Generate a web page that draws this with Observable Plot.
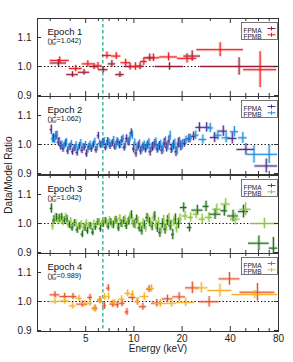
<!DOCTYPE html>
<html><head><meta charset="utf-8">
<script src="https://cdn.jsdelivr.net/npm/d3@7"></script>
<script src="https://cdn.jsdelivr.net/npm/@observablehq/plot@0.6"></script>
<style>
body{margin:0;background:#fff;font-family:"Liberation Sans",Arial,sans-serif;}
#wrap{position:relative;width:293px;height:362px;overflow:hidden;background:#fff;}
.panel{position:absolute;left:0;}
#ylab{position:absolute;left:8px;top:175px;transform:translate(-50%,-50%) rotate(-90deg);white-space:nowrap;font-size:10px;color:#222;}
</style></head><body><div id="wrap"><div id="ylab">Data/Model Ratio</div></div>
<script>
// ---------- data ----------
const epochNames = ["Epoch 1","Epoch 2","Epoch 3","Epoch 4"];
const chiLabels = ["(χν2=1.042)","(χν2=1.062)","(χν2=1.042)","(χν2=0.989)"];
const detectors = ["FPMA","FPMB"];
const colorsA = ["#9c1c34","#4b2d8c","#1d6b1d","#e4532a"];
const colorsB = ["#ef1818","#1f8ee0","#8cc43c","#f5b324"];
const feLine = [6.4];
const majorX = [5,10,20,40,80];
const minorX = [3,4,6,7,8,9,30,50,60,70];
const yTicks = [0.9,1.0,1.1];

// Epoch 1
const e1Aedges = [3.0,3.8,4.5,5.3,6.0,6.9,7.7,8.7,10.3,11.6,13.6,20.5,26.1,79];
const e1Aratio = [1.012,0.972,0.980,1.000,0.989,1.009,0.972,1.000,1.001,1.030,1.000,1.036,1.000];
const e1Aerr   = [0.012,0.010,0.010,0.011,0.011,0.012,0.010,0.012,0.012,0.013,0.013,0.018,0.030];
const e1Bedges = [3.0,3.95,4.75,5.6,6.35,7.25,8.3,9.5,11.0,12.1,14.5,18.7,24.7,48.4,78];
const e1Bratio = [1.021,0.993,1.009,1.002,1.038,1.036,1.013,1.000,1.017,1.030,1.033,1.028,1.058,0.989];
const e1Berr   = [0.012,0.011,0.011,0.012,0.012,0.012,0.012,0.013,0.013,0.013,0.014,0.016,0.024,0.062];

// Epoch 2
const e2Aedges = [3.00,3.10,3.21,3.32,3.43,3.55,3.67,3.80,3.93,4.07,4.21,4.35,4.50,4.66,4.82,4.98,5.15,5.33,5.51,5.70,
  5.90,6.10,6.31,6.53,6.75,6.98,7.22,7.47,7.73,8.00,8.27,8.56,8.85,9.16,9.47,9.80,10.14,10.49,10.85,11.22,
  11.61,12.01,12.42,12.85,13.29,13.75,14.22,14.71,15.22,15.74,16.28,16.84,17.42,18.02,18.64,19.28,20.0,
  21.3,22.8,24.4,27.0,30.0,34.0,38.5,44.0,57.0,79.0];
const e2Aratio = [1.051,1.022,1.030,1.008,0.995,0.986,1.003,0.978,0.992,0.975,
  0.988,0.972,0.995,0.980,0.990,0.968,0.992,0.985,1.000,0.982,
  1.030,0.998,1.008,0.990,1.012,0.995,1.005,0.992,1.010,0.998,
  1.015,0.990,1.020,1.008,1.040,0.985,0.970,0.995,0.978,0.992,
  0.985,0.998,0.975,0.992,1.002,0.985,0.995,0.980,1.005,0.990,
  1.012,0.985,0.998,0.975,1.005,0.995,
  1.004,1.020,1.028,1.059,1.059,1.024,1.046,1.021,0.983,0.926];
const e2Aerr = [0.016,0.015,0.015,0.014,0.014,0.013,0.013,0.013,0.013,0.012,
  0.012,0.012,0.012,0.012,0.012,0.012,0.012,0.012,0.012,0.012,
  0.012,0.012,0.012,0.012,0.012,0.012,0.012,0.012,0.013,0.013,
  0.013,0.013,0.013,0.013,0.014,0.014,0.014,0.014,0.014,0.014,
  0.014,0.015,0.015,0.015,0.015,0.015,0.015,0.015,0.016,0.016,
  0.016,0.016,0.016,0.017,0.017,0.017,
  0.014,0.015,0.015,0.016,0.016,0.017,0.018,0.019,0.020,0.024];
const e2Bedges = [3.05,3.15,3.26,3.37,3.49,3.61,3.73,3.86,4.00,4.14,4.28,4.43,4.58,4.74,4.90,5.07,5.24,5.42,5.61,5.80,
  6.00,6.21,6.42,6.64,6.87,7.10,7.35,7.60,7.86,8.13,8.41,8.70,9.00,9.31,9.63,9.96,10.30,10.66,11.03,11.41,
  11.80,12.21,12.63,13.06,13.51,13.98,14.46,14.96,15.48,16.01,16.56,17.13,17.72,18.33,18.96,19.62,20.5,
  21.8,23.2,25.5,28.5,31.5,35.5,40.0,45.0,51.0,62.0,79.0];
const e2Bratio = [1.020,1.018,1.032,1.010,1.000,0.995,1.008,0.990,1.002,0.985,
  0.998,0.988,1.005,0.992,0.998,0.982,1.000,0.994,1.010,0.990,
  1.004,1.000,1.012,0.996,1.008,1.002,1.015,0.995,1.005,1.000,
  1.020,0.998,1.010,1.025,1.032,1.005,0.990,1.002,0.985,0.998,
  0.992,1.005,0.988,0.995,1.008,0.990,1.000,0.986,1.010,0.995,
  1.030,0.990,1.002,0.982,1.008,1.000,
  1.015,1.021,1.032,1.017,1.057,1.032,1.023,1.044,1.023,0.966,0.966];
const e2Berr = [0.015,0.015,0.014,0.014,0.013,0.013,0.013,0.012,0.012,0.012,
  0.012,0.012,0.012,0.012,0.012,0.012,0.012,0.012,0.012,0.012,
  0.012,0.012,0.012,0.012,0.012,0.012,0.013,0.013,0.013,0.013,
  0.013,0.013,0.013,0.014,0.014,0.014,0.014,0.014,0.014,0.014,
  0.015,0.015,0.015,0.015,0.015,0.015,0.015,0.016,0.016,0.016,
  0.016,0.016,0.017,0.017,0.017,0.017,
  0.014,0.015,0.015,0.016,0.016,0.017,0.017,0.018,0.019,0.030,0.032];

// Epoch 3
const e3Aedges = [3.00,3.11,3.23,3.35,3.48,3.61,3.75,3.89,4.04,4.19,4.35,4.51,4.68,4.86,5.04,5.23,5.43,5.64,5.85,6.07,
  6.30,6.54,6.79,7.05,7.31,7.59,7.88,8.17,8.48,8.80,9.14,9.48,9.84,10.21,10.60,11.00,11.42,11.85,12.30,12.76,
  13.25,13.75,14.27,14.81,15.37,15.95,16.55,17.18,17.83,18.50,19.50,
  21.5,23.0,27.0,29.5,35.0,38.5,45.0,52.0,70.0,79.0];
const e3Aratio = [1.052,1.012,1.020,1.018,1.022,1.010,1.015,0.995,0.985,1.002,
  0.978,0.990,0.963,0.985,0.975,0.992,0.970,0.988,1.005,0.982,
  0.998,1.008,0.990,1.005,0.995,1.012,0.985,1.000,1.010,0.992,
  1.008,1.030,0.998,1.015,0.985,0.975,0.995,1.020,1.005,0.990,
  1.025,0.985,0.968,1.000,0.980,1.010,0.992,0.962,1.015,1.000,
  1.055,0.986,1.046,1.059,1.032,1.044,1.026,1.041,0.932,0.915];
const e3Aerr = [0.016,0.015,0.014,0.014,0.013,0.013,0.013,0.012,0.012,0.012,
  0.012,0.012,0.012,0.012,0.012,0.012,0.012,0.012,0.012,0.012,
  0.012,0.012,0.012,0.012,0.013,0.013,0.013,0.013,0.013,0.013,
  0.014,0.014,0.014,0.014,0.014,0.015,0.015,0.015,0.015,0.015,
  0.016,0.016,0.016,0.016,0.017,0.017,0.017,0.018,0.018,0.018,
  0.016,0.015,0.017,0.018,0.018,0.019,0.020,0.022,0.025,0.037];
const e3Bedges = [3.05,3.17,3.29,3.41,3.54,3.68,3.82,3.96,4.11,4.27,4.43,4.60,4.77,4.95,5.14,5.33,5.53,5.74,5.96,6.19,
  6.42,6.66,6.92,7.18,7.45,7.73,8.02,8.33,8.64,8.97,9.31,9.66,10.02,10.40,10.80,11.21,11.63,12.07,12.53,13.00,
  13.50,14.00,14.55,15.10,15.65,16.25,16.85,17.50,18.15,18.85,20.0,
  21.8,23.5,25.5,28.0,31.0,35.0,40.0,46.0,54.0,79.0];
const e3Bratio = [0.992,1.020,1.010,1.015,1.005,1.022,0.998,1.008,0.995,1.000,
  0.990,0.998,0.985,1.002,0.992,0.988,1.000,0.995,1.005,0.998,
  1.008,1.000,1.012,0.995,1.010,1.002,1.018,0.998,1.015,1.005,
  1.025,1.008,0.995,1.010,0.990,1.002,0.985,1.015,0.998,1.020,
  0.995,1.005,0.982,1.012,0.990,1.018,0.995,1.008,0.985,1.015,
  1.026,1.021,1.032,1.015,1.021,1.049,1.067,1.015,1.049,1.000];
const e3Berr = [0.015,0.015,0.014,0.014,0.013,0.013,0.013,0.012,0.012,0.012,
  0.012,0.012,0.012,0.012,0.012,0.012,0.012,0.012,0.012,0.012,
  0.012,0.012,0.012,0.013,0.013,0.013,0.013,0.013,0.013,0.013,
  0.014,0.014,0.014,0.014,0.014,0.015,0.015,0.015,0.015,0.015,
  0.016,0.016,0.016,0.016,0.017,0.017,0.017,0.018,0.018,0.018,
  0.015,0.016,0.016,0.017,0.017,0.018,0.019,0.020,0.022,0.018];

// Epoch 4
const e4Aedges = [3.0,3.45,3.95,4.4,5.15,5.5,5.95,6.35,6.75,7.1,7.7,8.1,8.8,9.3,10.3,10.8,12.0,12.9,15.0,17.5,21.0,25.6,34.0,46.0,76.0];
const e4Aratio = [1.023,1.017,1.017,0.991,1.014,0.977,1.005,0.985,1.046,0.991,0.989,0.994,0.964,1.014,1.000,0.982,1.043,0.994,1.009,1.016,1.047,0.999,1.078,1.032];
const e4Aerr   = [0.011,0.011,0.011,0.011,0.011,0.011,0.012,0.012,0.012,0.012,0.012,0.012,0.012,0.012,0.012,0.012,0.012,0.013,0.013,0.014,0.020,0.018,0.022,0.030];
const e4Bedges = [3.0,3.45,3.95,4.35,4.75,5.15,5.5,5.95,6.35,6.8,7.1,8.0,8.8,9.5,10.1,10.9,12.4,13.4,16.0,18.5,24.0,29.0,41.0,79.0];
const e4Bratio = [1.000,1.002,0.985,1.011,0.993,0.994,0.974,1.004,1.016,1.017,0.995,1.008,1.028,1.025,1.000,1.017,1.045,0.993,0.994,0.997,1.047,1.038,1.024];
const e4Berr   = [0.011,0.011,0.011,0.011,0.011,0.011,0.011,0.012,0.012,0.012,0.012,0.012,0.012,0.012,0.012,0.013,0.013,0.013,0.014,0.015,0.018,0.022,0.014];

// ---------- build ----------
function bins(edges, ratio, err) {
  return ratio.map((r, i) => ({lo: edges[i], hi: edges[i + 1], e: Math.sqrt(edges[i] * edges[i + 1]), r, err: err[i]}));
}
const epochs = [
  {A: bins(e1Aedges, e1Aratio, e1Aerr), B: bins(e1Bedges, e1Bratio, e1Berr)},
  {A: bins(e2Aedges, e2Aratio, e2Aerr), B: bins(e2Bedges, e2Bratio, e2Berr)},
  {A: bins(e3Aedges, e3Aratio, e3Aerr), B: bins(e3Bedges, e3Bratio, e3Berr)},
  {A: bins(e4Aedges, e4Aratio, e4Aerr), B: bins(e4Bedges, e4Bratio, e4Berr)}
];

const FH = 78, FW = 241;
const tops = [18, 96.3, 174.6, 252.9];
const frameColor = "#333";
const legendSym = {draw(ctx) { ctx.moveTo(-4, 0); ctx.lineTo(4, 0); ctx.moveTo(0, -2); ctx.lineTo(0, 2); }};

function bars(rows, color, halo) {
  const o = halo ? {stroke: color, strokeOpacity: 0.25, strokeWidth: 3} : {stroke: color, strokeWidth: 1};
  return [
    Plot.ruleY(rows, {y: "r", x1: "lo", x2: "hi", clip: true, ...o}),
    Plot.ruleX(rows, {x: "e", y1: d => d.r - d.err, y2: d => d.r + d.err, clip: true, ...o})
  ];
}

const wrap = document.getElementById("wrap");
epochs.forEach((ep, i) => {
  const last = i === 3;
  const cA = colorsA[i], cB = colorsB[i];
  const marks = [
    Plot.ruleY([1], {stroke: "#000", strokeWidth: 1, strokeDasharray: "1.3,2.2"}),
    Plot.ruleX(feLine, {stroke: "#13a68a", strokeWidth: 1.2, strokeDasharray: "3.5,2.5"}),
    ...bars(ep.A, cA, true), ...bars(ep.B, cB, true),
    ...bars(ep.A, cA, false), ...bars(ep.B, cB, false),
    Plot.ruleX(majorX, {insetTop: FH - 5, stroke: frameColor}),
    Plot.ruleX(majorX, {insetBottom: FH - 5, stroke: frameColor}),
    Plot.ruleX(minorX, {insetTop: FH - 3, stroke: frameColor}),
    Plot.ruleX(minorX, {insetBottom: FH - 3, stroke: frameColor}),
    Plot.ruleY(yTicks, {insetRight: FW - 4, stroke: frameColor}),
    Plot.ruleY(yTicks, {insetLeft: FW - 4, stroke: frameColor}),
    Plot.axisY(yTicks, {anchor: "left", tickSize: 0, tickPadding: 6, tickFormat: d3.format(".1f"), label: null, fontSize: 10}),
    Plot.frame({stroke: frameColor, strokeWidth: 1}),
    // legend
    Plot.frame({insetLeft: 204, insetRight: 1, insetTop: 4, insetBottom: FH - 21, fill: "white", stroke: "#555", strokeWidth: 0.8}),
    Plot.text([detectors[0]], {frameAnchor: "top-left", dx: 206, dy: 10, textAnchor: "start", fontSize: 6.5, fill: "#222"}),
    Plot.text([detectors[1]], {frameAnchor: "top-left", dx: 206, dy: 16.3, textAnchor: "start", fontSize: 6.5, fill: "#222"}),
    Plot.dot([0], {frameAnchor: "top-left", dx: 234, dy: 10, symbol: legendSym, fill: "none", stroke: cA, strokeWidth: 1}),
    Plot.dot([0], {frameAnchor: "top-left", dx: 234, dy: 16.3, symbol: legendSym, fill: "none", stroke: cB, strokeWidth: 1}),
    // epoch labels
    Plot.text([epochNames[i]], {frameAnchor: "top-left", dx: 10, dy: 10, textAnchor: "start", fontSize: 9.5, fill: "#111"}),
    Plot.text([chiLabels[i]], {frameAnchor: "top-left", dx: 10, dy: 19.5, textAnchor: "start", fontSize: 7.2, fill: "#111"})
  ];
  if (last) {
    marks.push(Plot.text(majorX, {x: d => d, frameAnchor: "bottom", dy: 10, text: d => String(d), fontSize: 10, fill: "#222"}));
    marks.push(Plot.text(["Energy (keV)"], {frameAnchor: "bottom", dy: 20.5, fontSize: 10, fill: "#222"}));
  }
  const svg = Plot.plot({
    width: 293, height: last ? FH + 30 : FH,
    marginLeft: 37, marginRight: 15, marginTop: 0, marginBottom: last ? 30 : 0,
    style: {background: "transparent", overflow: "visible", fontFamily: "'Liberation Sans', Arial, sans-serif", fontSize: "10px", color: "#222"},
    x: {type: "log", domain: [2.5, 80], axis: null},
    y: {domain: [0.8966, 1.1655]},
    marks
  });
  // chi-square label with subscript/superscript
  d3.select(svg).selectAll("text").filter(function() { return this.textContent.startsWith("(χ"); }).each(function() {
    const val = this.textContent.match(/=(.*)\)/)[1];
    const t = d3.select(this);
    t.text(null);
    t.append("tspan").text("(χ");
    t.append("tspan").attr("font-size", 5.2).attr("dy", 1.8).text("ν");
    t.append("tspan").attr("font-size", 5.2).attr("dx", -2.7).attr("dy", -4.8).text("2");
    t.append("tspan").attr("dy", 3).text("=" + val + ")");
  });
  const div = document.createElement("div");
  div.className = "panel";
  div.style.top = tops[i] + "px";
  div.appendChild(svg);
  wrap.appendChild(div);
});
</script></body></html>
